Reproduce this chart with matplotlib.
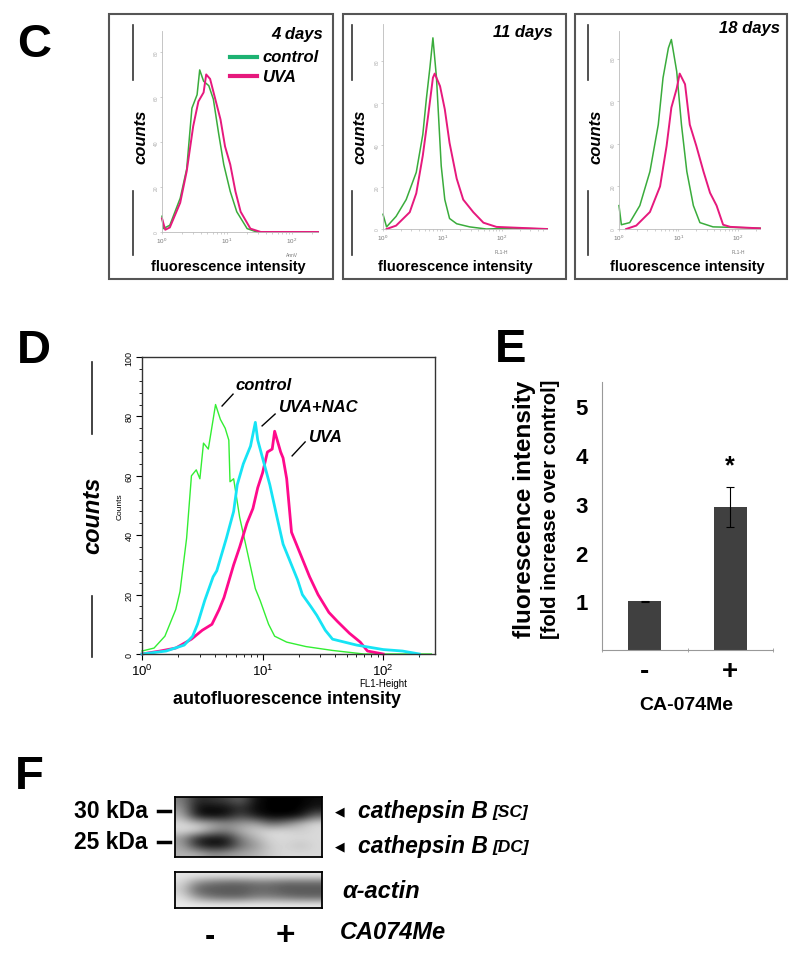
import numpy as np
import matplotlib
matplotlib.use("Agg")
import matplotlib.pyplot as plt
from matplotlib.lines import Line2D
from matplotlib.patches import Rectangle
from matplotlib.ticker import FixedLocator, LogLocator, NullFormatter

plt.rcParams["font.family"] = ["Liberation Sans", "DejaVu Sans"]
plt.rcParams["mathtext.fontset"] = "custom"
plt.rcParams["mathtext.rm"] = "Liberation Sans"
plt.rcParams["mathtext.it"] = "Liberation Sans:italic"
plt.rcParams["mathtext.bf"] = "Liberation Sans:bold"

# ---- panel C: flow histograms (x in log10 units, y in counts) ----
c4_ctrl_x = [0.0, 0.02, 0.12, 0.28, 0.38, 0.46, 0.54, 0.58, 0.64, 0.72, 0.79, 0.87, 0.95, 1.05, 1.15, 1.31, 1.46, 2.4]
c4_ctrl_y = [7, 1.5, 3, 15, 28, 55, 61, 72, 67, 65, 59, 44, 30, 18, 9, 1.5, 0, 0]
c4_uva_x = [0.0, 0.05, 0.12, 0.28, 0.38, 0.48, 0.56, 0.64, 0.68, 0.74, 0.82, 0.90, 0.97, 1.05, 1.13, 1.21, 1.36, 1.52, 2.4]
c4_uva_y = [6, 1, 2, 13, 27, 47, 58, 62, 70, 68, 59, 50, 38, 30, 18, 9, 1.5, 0, 0]

c11_ctrl_x = [0.0, 0.06, 0.22, 0.39, 0.56, 0.67, 0.73, 0.79, 0.84, 0.90, 0.98, 1.04, 1.12, 1.24, 1.46, 1.74, 2.19, 2.76]
c11_ctrl_y = [7, 1, 6, 14, 27, 45, 62, 77, 91, 72, 30, 14, 5, 2.5, 1, 0, 0.4, 0]
c11_uva_x = [0.06, 0.22, 0.45, 0.56, 0.67, 0.76, 0.84, 0.87, 0.96, 1.04, 1.12, 1.24, 1.35, 1.52, 1.69, 1.91, 2.76]
c11_uva_y = [0, 1.6, 8, 17, 35, 54, 72, 74, 68, 57, 41, 24, 14, 8, 3, 1, 0]

c18_ctrl_x = [0.0, 0.04, 0.18, 0.35, 0.52, 0.66, 0.74, 0.83, 0.88, 0.97, 1.05, 1.14, 1.25, 1.36, 1.58, 2.37]
c18_ctrl_y = [11, 2, 3, 11, 27, 49, 71, 85, 89, 74, 49, 27, 11, 3, 1, 0.4]
c18_uva_x = [0.12, 0.29, 0.52, 0.69, 0.80, 0.88, 0.97, 1.02, 1.11, 1.19, 1.30, 1.42, 1.53, 1.64, 1.75, 1.87, 2.37]
c18_uva_y = [0, 1.6, 8, 20, 39, 57, 66, 73, 68, 49, 39, 27, 17, 11, 2, 1, 0.3]

# ---- panel D ----
d_ctrl_x = [0.0, 0.1, 0.19, 0.23, 0.28, 0.315, 0.37, 0.41, 0.45, 0.48, 0.51, 0.55, 0.61, 0.65, 0.69, 0.72, 0.73, 0.76,
            0.81, 0.87, 0.94, 0.98, 1.05, 1.1, 1.2, 1.36, 1.58, 1.84, 2.4]
d_ctrl_y = [1, 2, 6, 10, 15, 21, 39, 60, 62, 59, 71, 69, 84, 79, 76, 72, 58, 59,
            46, 35, 22, 18, 10, 6, 4, 2.5, 1.2, 0, 0]
d_nac_x = [0.0, 0.2, 0.35, 0.42, 0.46, 0.52, 0.59, 0.62, 0.70, 0.76, 0.79, 0.84, 0.90, 0.94, 0.96, 1.0, 1.06, 1.12,
           1.17, 1.23, 1.29, 1.33, 1.40, 1.45, 1.52, 1.58, 1.78, 2.0, 2.16, 2.3]
d_nac_y = [0, 1, 3, 6, 10, 18, 26, 28, 39, 48, 57, 64, 70, 78, 72, 66, 57, 46,
           37, 31, 25, 20, 16, 13, 8, 5, 3, 1.5, 1, 0]
d_uva_x = [0.0, 0.15, 0.28, 0.41, 0.50, 0.58, 0.64, 0.68, 0.76, 0.81, 0.87, 0.92, 0.96, 1.0, 1.04, 1.08, 1.10, 1.15,
           1.17, 1.20, 1.24, 1.28, 1.34, 1.39, 1.46, 1.55, 1.62, 1.72, 1.81, 1.87, 2.0]
d_uva_y = [0, 1, 2, 5, 8, 10, 15, 19, 30, 36, 44, 49, 56, 61, 68, 69, 75, 68,
           66, 59, 41, 37, 31, 26, 20, 14, 11, 7, 4, 1, 0]

# ---- panel E ----
e_labels = ["-", "+"]
e_values = [1.0, 2.93]
e_errors = [0.01, 0.41]

# ---- panel F: blot darkness grids (0 white .. 1 black) ----
blot_cb = [
    [0.5, 0.85, 0.8, 0.75, 0.6, 0.95, 1.0, 1.0, 1.0, 0.95],
    [0.4, 0.95, 0.97, 0.95, 0.8, 0.97, 1.0, 1.0, 1.0, 0.9],
    [0.3, 0.9, 0.97, 0.92, 0.7, 0.9, 1.0, 1.0, 0.95, 0.6],
    [0.15, 0.25, 0.35, 0.45, 0.4, 0.35, 0.6, 0.5, 0.3, 0.15],
    [0.15, 0.15, 0.4, 0.5, 0.3, 0.2, 0.15, 0.15, 0.2, 0.15],
    [0.4, 0.85, 0.95, 0.9, 0.5, 0.3, 0.15, 0.15, 0.15, 0.15],
    [0.35, 0.8, 0.95, 0.9, 0.55, 0.4, 0.2, 0.15, 0.25, 0.15],
    [0.3, 0.3, 0.45, 0.4, 0.35, 0.3, 0.2, 0.15, 0.15, 0.15],
]
blot_actin = [
    [0.1, 0.1, 0.1, 0.1, 0.1, 0.1, 0.1, 0.1, 0.1, 0.1],
    [0.15, 0.45, 0.55, 0.6, 0.6, 0.55, 0.55, 0.6, 0.6, 0.6],
    [0.2, 0.62, 0.66, 0.66, 0.66, 0.6, 0.6, 0.66, 0.66, 0.66],
    [0.12, 0.4, 0.55, 0.6, 0.6, 0.5, 0.5, 0.55, 0.6, 0.6],
    [0.08, 0.08, 0.08, 0.08, 0.08, 0.08, 0.08, 0.08, 0.08, 0.08],
]

W, H = 800, 954
fig = plt.figure(figsize=(W / 100, H / 100), dpi=100)


def add_ax(x0, y0, x1, y1):
    return fig.add_axes([x0 / W, 1 - y1 / H, (x1 - x0) / W, (y1 - y0) / H])


def ftext(x, y, s, **kw):
    fig.text(x / W, 1 - y / H, s, **kw)


def fline(xs, ys, **kw):
    fig.add_artist(Line2D([x / W for x in xs], [1 - y / H for y in ys], **kw))


GREEN = "#3aac3c"
PINK = "#e6197d"
BOLD = dict(fontweight="bold")
BI = dict(fontweight="bold", style="italic")
DECADES = ["$10^{0}$", "$10^{1}$", "$10^{2}$"]

# panel letters
for letter, x, y in [("C", 17, 45), ("D", 17, 351), ("E", 495, 350), ("F", 15, 777)]:
    ftext(x, y, letter, fontsize=34, ha="left", va="center", **BOLD)

# ---- C ----
boxes = [(109, 333), (343, 566), (575, 787)]
for bx0, bx1 in boxes:
    fig.add_artist(Rectangle((bx0 / W, 1 - 280 / H), (bx1 - bx0) / W, 265 / H,
                             transform=fig.transFigure, fill=False, ec="#555555", lw=1.5))

c_panels = [
    ((162, 32, 318, 233), 89.3, 2.4, c4_ctrl_x, c4_ctrl_y, c4_uva_x, c4_uva_y, "AnnV", 133, "4 days", 323, 35, 228),
    ((383, 25, 547, 230), 97.6, 2.76, c11_ctrl_x, c11_ctrl_y, c11_uva_x, c11_uva_y, "FL1-H", 352, "11 days", 553, 33, 455),
    ((619, 32, 760, 230), 93.0, 2.37, c18_ctrl_x, c18_ctrl_y, c18_uva_x, c18_uva_y, "FL1-H", 588, "18 days", 780, 29, 687),
]
for rect, ymax, xmax, gx, gy, px, py, sub, lx, days, dx, dy, cx in c_panels:
    ax = add_ax(*rect)
    ax.plot(10 ** np.array(gx), gy, color=GREEN, lw=1.1, clip_on=False)
    ax.plot(10 ** np.array(px), py, color=PINK, lw=1.4, clip_on=False)
    ax.set_xscale("log")
    ax.set_xlim(1, 10 ** xmax)
    ax.set_ylim(0, ymax)
    for s in ["top", "right"]:
        ax.spines[s].set_visible(False)
    for s in ["left", "bottom"]:
        ax.spines[s].set_color("#bbbbbb")
        ax.spines[s].set_linewidth(0.6)
    ax.xaxis.set_major_locator(FixedLocator([1, 10, 100]))
    ax.set_xticklabels(DECADES, fontsize=4.5)
    ax.xaxis.set_minor_locator(LogLocator(subs=np.arange(2, 10)))
    ax.xaxis.set_minor_formatter(NullFormatter())
    ax.set_yticks([0, 20, 40, 60, 80])
    ax.set_yticklabels(["0", "20", "40", "60", "80"], fontsize=3.5, rotation=90, va="center")
    ax.tick_params(which="both", colors="#bbbbbb", length=1.5, width=0.5, pad=1)
    ax.tick_params(axis="x", labelcolor="#777777")
    ax.tick_params(axis="y", labelcolor="#aaaaaa")
    ax.text(100, -0.1, sub, transform=ax.get_xaxis_transform(), fontsize=3.5, color="#777777",
            ha="center", va="top")
    ftext(cx, 267, "fluorescence intensity", fontsize=10.5, ha="center", va="center", **BOLD)
    ftext(lx + 8, 137, "counts", fontsize=12, rotation=90, ha="center", va="center", **BI)
    fline([lx, lx], [26, 81], color="#333333", lw=1.2)
    fline([lx, lx], [192, 256], color="#333333", lw=1.2)
    ftext(dx, dy, days, fontsize=12, ha="right", va="center", **BI)

# legend in first box
fline([230, 257], [58, 58], color="#1db272", lw=3)
fline([230, 257], [77, 77], color=PINK, lw=3)
ftext(262, 58, "control", fontsize=12, ha="left", va="center", **BI)
ftext(262, 77, "UVA", fontsize=12, ha="left", va="center", **BI)

# ---- D ----
axd = add_ax(142, 358, 435, 655)
axd.plot(10 ** np.array(d_ctrl_x), d_ctrl_y, color="#33ee33", lw=1.0, clip_on=False)
axd.plot(10 ** np.array(d_uva_x), d_uva_y, color="#ff0a8c", lw=2.0, clip_on=False)
axd.plot(10 ** np.array(d_nac_x), d_nac_y, color="#16e4f5", lw=2.0, clip_on=False)
axd.set_xscale("log")
axd.set_xlim(1, 10 ** 2.43)
axd.set_ylim(0, 100)
axd.xaxis.set_major_locator(FixedLocator([1, 10, 100]))
axd.set_xticklabels(DECADES, fontsize=9.5)
axd.xaxis.set_minor_locator(LogLocator(subs=np.arange(2, 10)))
axd.xaxis.set_minor_formatter(NullFormatter())
axd.set_yticks([0, 20, 40, 60, 80, 100])
axd.set_yticklabels(["0", "20", "40", "60", "80", "100"], fontsize=6.5, rotation=90, va="center")
axd.set_yticks(np.arange(0, 101, 4), minor=True)
axd.tick_params(which="major", length=4, width=0.8, pad=2)
axd.tick_params(which="minor", length=2, width=0.6)
for s in axd.spines.values():
    s.set_color("#333333")
    s.set_linewidth(1.0)
axd.text(100, -0.08, "FL1-Height", transform=axd.get_xaxis_transform(), fontsize=7, ha="center", va="top")
axd.set_ylabel("Counts", fontsize=6, labelpad=1)

d_notes = [("control", 0.664, 83.5, 0.755, 87.5, 0.772, 90.9),
           ("UVA+NAC", 0.996, 76.8, 1.104, 80.8, 1.129, 83.2),
           ("UVA", 1.245, 66.7, 1.353, 71.4, 1.378, 73.1)]
for name, x0, y0, x1, y1, tx, ty in d_notes:
    axd.plot([10 ** x0, 10 ** x1], [y0, y1], color="black", lw=1.0)
    axd.text(10 ** tx, ty, name, fontsize=12, ha="left", va="center", **BI)

ftext(93, 515, "counts", fontsize=17, rotation=90, ha="center", va="center", **BI)
fline([92, 92], [363, 435], color="#222222", lw=1.2)
fline([92, 92], [597, 658], color="#222222", lw=1.2)
ftext(287, 700, "autofluorescence intensity", fontsize=13, ha="center", va="center", **BOLD)

# ---- E ----
axe = add_ax(602, 383, 773, 651)
x_e = np.arange(len(e_values))
axe.bar(x_e, e_values, width=0.39, color="#404040", yerr=e_errors, capsize=3,
        error_kw=dict(elinewidth=0.8, capthick=0.8, ecolor="black"))
axe.set_xlim(-0.5, 1.5)
axe.set_ylim(0, 5.5)
axe.set_yticks([1, 2, 3, 4, 5])
axe.set_yticklabels(["1", "2", "3", "4", "5"], fontsize=16, fontweight="bold")
axe.set_xticks(x_e)
axe.set_xticklabels(e_labels, fontsize=20, fontweight="bold")
axe.set_xticks([-0.5, 0.5, 1.5], minor=True)
axe.tick_params(axis="x", which="major", length=0, pad=6)
axe.tick_params(axis="x", which="minor", length=3, color="#999999", direction="inout")
axe.tick_params(axis="y", length=0, pad=10)
for s in ["top", "right"]:
    axe.spines[s].set_visible(False)
for s in ["left", "bottom"]:
    axe.spines[s].set_color("#999999")
    axe.spines[s].set_linewidth(0.8)
axe.text(1, e_values[1] + e_errors[1] + 0.45, "*", fontsize=18, ha="center", va="center", **BOLD)
ftext(686, 706, "CA-074Me", fontsize=14, ha="center", va="center", **BOLD)
ftext(524, 509, "fluorescence intensity", fontsize=17.5, rotation=90, ha="center", va="center", **BOLD)
ftext(551, 509, "[fold increase over control]", fontsize=14.5, rotation=90, ha="center", va="center", **BOLD)

# ---- F ----
for grid, y0, y1 in [(blot_cb, 798, 858), (blot_actin, 873, 909)]:
    axb = add_ax(175, y0, 322, y1)
    axb.imshow(np.array(grid), cmap="gray_r", vmin=0, vmax=1, interpolation="bicubic", aspect="auto")
    axb.set_xticks([])
    axb.set_yticks([])
    for s in axb.spines.values():
        s.set_linewidth(1.3)
        s.set_color("black")

ftext(148, 812, "30 kDa", fontsize=16.5, ha="right", va="center", **BOLD)
ftext(148, 843, "25 kDa", fontsize=16.5, ha="right", va="center", **BOLD)
fline([158, 170], [812, 812], color="black", lw=2.5)
fline([158, 170], [843, 843], color="black", lw=2.5)
for yy, tag in [(812, "[SC]"), (847, "[DC]")]:
    ftext(335, yy, "\u25c0", fontsize=9, ha="left", va="center")
    ftext(358, yy, "cathepsin B", fontsize=16.5, ha="left", va="center", **BI)
    ftext(492, yy + 1, tag, fontsize=12.5, ha="left", va="center", **BI)
ftext(342, 892, "\u03b1-actin", fontsize=17, ha="left", va="center", **BI)
ftext(340, 933, "CA074Me", fontsize=17, ha="left", va="center", **BI)
ftext(210, 937, "-", fontsize=22, ha="center", va="center", **BOLD)
ftext(285, 937, "+", fontsize=24, ha="center", va="center", **BOLD)

fig.savefig("out.png", dpi=100)
